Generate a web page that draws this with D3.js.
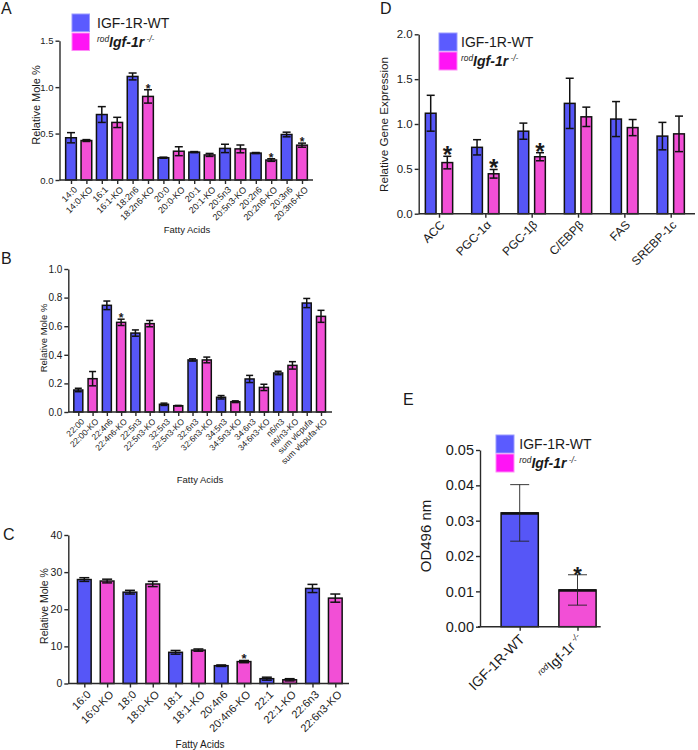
<!DOCTYPE html>
<html><head><meta charset="utf-8">
<script src="https://cdn.jsdelivr.net/npm/d3@7"></script>
<style>
body{margin:0;background:#fff}
svg{display:block}
text{font-family:"Liberation Sans",Arial,sans-serif;fill:#1a1a1a}
</style>
</head><body>
<svg id="c" width="698" height="750"></svg>
<script>
// ---------- DATA ----------
const seriesNames = ["IGF-1R-WT", "KO"];

const catsA = ["14:0","14:0-KO","16:1","16:1-KO","18:2n6","18:2n6-KO","20:0","20:0-KO","20:1","20:1-KO","20:5n3","20:5n3-KO","20:2n6","20:2n6-KO","20:3n6","20:3n6-KO"];
const valsA = [0.455,0.425,0.705,0.62,1.115,0.90,0.24,0.31,0.30,0.27,0.34,0.335,0.29,0.215,0.49,0.375];
const errA  = [0.055,0.01,0.085,0.055,0.037,0.072,0.006,0.048,0.006,0.016,0.045,0.042,0.006,0.014,0.025,0.022];
const sigA  = ["18:2n6-KO","20:2n6-KO","20:3n6-KO"];
const ticksA = [0,0.5,1.0,1.5];

const catsB = ["22:00","22:00-KO","22:4n6","22:4n6-KO","22:5n3","22:5n3-KO","32:5n3","32:5n3-KO","32:6n3","32:6n3-KO","34:5n3","34:5n3-KO","34:6n3","34:6n3-KO","n6/n3","n6/n3-KO","sum vlcpufa","sum vlcpufa-KO"];
const valsB = [0.154,0.233,0.746,0.627,0.552,0.618,0.054,0.044,0.364,0.364,0.103,0.072,0.231,0.172,0.273,0.326,0.762,0.669];
const errB  = [0.012,0.05,0.03,0.022,0.022,0.022,0.008,0.002,0.008,0.02,0.012,0.006,0.025,0.022,0.012,0.026,0.032,0.042];
const sigB  = ["22:4n6-KO"];
const ticksB = [0,0.2,0.4,0.6,0.8,1.0];

const catsC = ["16:0","16:0-KO","18:0","18:0-KO","18:1","18:1-KO","20:4n6","20:4n6-KO","22:1","22:1-KO","22:6n3","22:6n3-KO"];
const valsC = [28.0,27.6,24.6,26.8,8.4,9.0,4.8,5.9,1.3,1.0,25.6,23.0];
const errC  = [0.5,0.5,0.5,0.7,0.5,0.3,0.2,0.3,0.4,0.3,1.1,1.1];
const sigC  = ["20:4n6-KO"];
const ticksC = [0,10,20,30,40];

const genesD = ["ACC","PGC-1α","PGC-1β","C/EBPβ","FAS","SREBP-1c"];
const wtD    = [1.12,0.74,0.92,1.23,1.055,0.865];
const wtErrD = [0.2,0.085,0.09,0.28,0.195,0.153];
const koD    = [0.57,0.445,0.635,1.08,0.96,0.89];
const koErrD = [0.07,0.048,0.045,0.108,0.09,0.198];
const sigD   = ["ACC","PGC-1α","PGC-1β"];
const ticksD = [0,0.5,1.0,1.5,2.0];

const groupsE = ["IGF-1R-WT","KO"];
const valsE = [0.0322,0.0104];
const errE  = [0.008,0.0043];
const sigE  = ["KO"];
const ticksE = [0,0.01,0.02,0.03,0.04,0.05];

// ---------- DRAW ----------
const svg = d3.select("#c");
const WT = "#5656f7", KO = "#f24fd6";
const LWT = "#5b5bff", LKO = "#ff14f5";
const AX = "#2a2a2a";

function yAxis(x0, y, ticks, fmt, fs) {
  const g = svg.append("g").attr("transform", `translate(${x0},0)`)
    .call(d3.axisLeft(y).tickValues(ticks).tickFormat(fmt).tickSize(4).tickSizeOuter(0).tickPadding(2));
  g.selectAll("text").style("font-size", fs + "px").style("font-family", '"Liberation Sans",Arial,sans-serif').attr("fill", "#1a1a1a");
  g.selectAll("line,path").attr("stroke", AX).attr("stroke-width", 1.4);
  return g;
}
function xAxis(x, y0, xr, fs, dx, dy, labelFn) {
  const g = svg.append("g").attr("transform", `translate(0,${y0})`)
    .call(d3.axisBottom(x).tickSize(4).tickSizeOuter(0));
  g.select(".domain").remove();
  g.selectAll("line").attr("stroke", AX).attr("stroke-width", 1.4);
  g.selectAll("text").remove();
  g.selectAll(".tick").each(function(d) {
    const t = d3.select(this).append("text")
      .attr("transform", `translate(${dx},${dy}) rotate(-45)`)
      .attr("text-anchor", "end").attr("dy", "0.35em")
      .style("font-size", fs + "px");
    if (labelFn) labelFn(t, d); else t.text(d);
  });
  svg.append("line").attr("x1", xr[0]).attr("x2", xr[1]).attr("y1", y0).attr("y2", y0)
    .attr("stroke", AX).attr("stroke-width", 1.4);
}
function drawBars(data, y, y0, w, cap, ew, starFs, starOff) {
  const g = svg.append("g");
  g.selectAll("rect.bar").data(data).join("rect")
    .attr("x", d => d.x - w / 2).attr("width", w)
    .attr("y", d => y(d.v)).attr("height", d => y0 - y(d.v))
    .attr("fill", d => d.c).attr("stroke", "#111").attr("stroke-width", 1.5);
  const eb = g.selectAll("g.eb").data(data).join("g");
  eb.append("line").attr("x1", d => d.x).attr("x2", d => d.x)
    .attr("y1", d => y(d.v + d.e)).attr("y2", d => y(d.v - d.e));
  eb.append("line").attr("x1", d => d.x - cap / 2).attr("x2", d => d.x + cap / 2)
    .attr("y1", d => y(d.v + d.e)).attr("y2", d => y(d.v + d.e));
  eb.append("line").attr("x1", d => d.x - cap / 2).attr("x2", d => d.x + cap / 2)
    .attr("y1", d => y(d.v - d.e)).attr("y2", d => y(d.v - d.e));
  eb.selectAll("line").attr("stroke", "#111").attr("stroke-width", ew);
  g.selectAll("text.star").data(data.filter(d => d.s)).join("text")
    .attr("x", d => d.x).attr("y", d => y(d.v + d.e) + starOff)
    .attr("text-anchor", "middle").style("font-size", starFs + "px").style("font-weight", "bold").text("*");
}
function yTitle(x, yc, txt, fs) {
  svg.append("text").attr("transform", `translate(${x},${yc}) rotate(-90)`)
    .attr("text-anchor", "middle").attr("dominant-baseline", "central")
    .style("font-size", fs + "px").text(txt);
}
function xTitle(x, yc, txt, fs) {
  svg.append("text").attr("x", x).attr("y", yc).attr("text-anchor", "middle")
    .attr("dominant-baseline", "central").style("font-size", fs + "px").text(txt);
}
function letter(x, y, t) {
  svg.append("text").attr("x", x).attr("y", y).style("font-size", "16px").text(t);
}
function koLabel(t, fsMain, fsSup, bold, italic) {
  t.append("tspan").attr("baseline-shift", "super").style("font-size", fsSup + "px").style("font-style", "italic").text("rod");
  t.append("tspan").style("font-size", fsMain + "px").style("font-style", italic ? "italic" : "normal")
    .style("font-weight", bold ? "bold" : "normal").text("Igf-1r");
  t.append("tspan").attr("baseline-shift", "super").style("font-size", fsSup + "px").style("font-style", "italic").text(" -/-");
}
function legend(x, y, sq, gap, tx, fs) {
  svg.append("rect").attr("x", x).attr("y", y).attr("width", sq).attr("height", sq)
    .attr("fill", LWT).attr("stroke", "#9a9aff").attr("stroke-width", 1);
  svg.append("rect").attr("x", x).attr("y", y + sq + gap).attr("width", sq).attr("height", sq)
    .attr("fill", LKO).attr("stroke", "#ff8cf8").attr("stroke-width", 1);
  svg.append("text").attr("x", tx).attr("y", y + sq / 2).attr("dominant-baseline", "central")
    .style("font-size", fs + "px").text(seriesNames[0]);
  const t = svg.append("text").attr("x", tx).attr("y", y + sq + gap + sq / 2 + fs * 0.35);
  koLabel(t, fs, fs * 0.6, true, true);
}
const isKO = (c, i) => i % 2 === 1;

// ----- Panel A -----
{
  const y0 = 180, yT = 40.7;
  const x = d3.scalePoint().domain(catsA).range([71, 302]);
  const y = d3.scaleLinear().domain([0, 1.5]).range([y0, yT]);
  const data = catsA.map((c, i) => ({x: x(c), v: valsA[i], e: errA[i], c: isKO(c, i) ? KO : WT, s: sigA.includes(c)}));
  drawBars(data, y, y0, 10.7, 8, 1.5, 12, 3);
  yAxis(59.5, y, ticksA, d3.format(".1f"), 9.5);
  xAxis(x, y0, [59.5, 313], 9, 4, 8);
  yTitle(36, 105, "Relative Mole %", 11);
  xTitle(187, 229, "Fatty Acids", 9.5);
  legend(72, 14, 17.5, 1.5, 97, 14);
  letter(1, 14, "A");
}
// ----- Panel B -----
{
  const y0 = 412, yT = 269;
  const x = d3.scalePoint().domain(catsB).range([78.3, 321]);
  const y = d3.scaleLinear().domain([0, 1.0]).range([y0, yT]);
  const data = catsB.map((c, i) => ({x: x(c), v: valsB[i], e: errB[i], c: isKO(c, i) ? KO : WT, s: sigB.includes(c)}));
  drawBars(data, y, y0, 9, 7, 1.5, 12, 3);
  yAxis(68.3, y, ticksB, d3.format(".1f"), 10);
  xAxis(x, y0, [68.3, 332], 8.5, 4, 8);
  yTitle(43, 338, "Relative Mole %", 9.5);
  xTitle(200, 479, "Fatty Acids", 9.5);
  letter(1, 264, "B");
}
// ----- Panel C -----
{
  const y0 = 683.5, yT = 535;
  const x = d3.scalePoint().domain(catsC).range([84.3, 335.3]);
  const y = d3.scaleLinear().domain([0, 40]).range([y0, yT]);
  const data = catsC.map((c, i) => ({x: x(c), v: valsC[i], e: errC[i], c: isKO(c, i) ? KO : WT, s: sigC.includes(c)}));
  drawBars(data, y, y0, 13.7, 10, 1.5, 13, 3);
  yAxis(68.3, y, ticksC, d3.format("d"), 10.5);
  xAxis(x, y0, [68.3, 349], 11, 4, 9);
  yTitle(44, 606, "Relative Mole %", 10.5);
  xTitle(200, 744, "Fatty Acids", 10);
  letter(3, 540, "C");
}
// ----- Panel D -----
{
  const y0 = 213.7, yT = 34.3;
  const xg = d3.scalePoint().domain(genesD).range([439, 670.7]);
  const y = d3.scaleLinear().domain([0, 2.0]).range([y0, yT]);
  const off = 8.3;
  const data = [];
  genesD.forEach((g, i) => {
    data.push({x: xg(g) - off, v: wtD[i], e: wtErrD[i], c: WT, s: false});
    data.push({x: xg(g) + off, v: koD[i], e: koErrD[i], c: KO, s: sigD.includes(g)});
  });
  drawBars(data, y, y0, 10.7, 8, 1.5, 24, 7);
  yAxis(418.7, y, ticksD, d3.format(".1f"), 11.5);
  xAxis(xg, y0, [418.7, 695], 12, 3, 9);
  yTitle(383, 124.5, "Relative Gene Expression", 11.7);
  legend(439, 33, 18, 1, 461, 14);
  letter(380, 14, "D");
}
// ----- Panel E -----
{
  const y0 = 626.7, yT = 450;
  const x = d3.scalePoint().domain(groupsE).range([519.7, 577.5]);
  const y = d3.scaleLinear().domain([0, 0.05]).range([y0, yT]);
  const data = groupsE.map((c, i) => ({x: x(c), v: valsE[i], e: errE[i], c: i ? KO : WT, s: sigE.includes(c)}));
  const g = svg.append("g");
  g.selectAll("rect").data(data).join("rect")
    .attr("x", d => d.x - 18.6).attr("width", 37.2)
    .attr("y", d => y(d.v)).attr("height", d => y0 - y(d.v))
    .attr("fill", d => d.c).attr("stroke", "#111").attr("stroke-width", 1.5);
  g.selectAll("line.top").data(data).join("line")
    .attr("x1", d => d.x - 18.6).attr("x2", d => d.x + 18.6)
    .attr("y1", d => y(d.v) + 0.5).attr("y2", d => y(d.v) + 0.5).attr("stroke", "#111").attr("stroke-width", 2.5);
  const eb = g.selectAll("g.eb").data(data).join("g");
  eb.append("line").attr("x1", d => d.x).attr("x2", d => d.x).attr("y1", d => y(d.v + d.e)).attr("y2", d => y(d.v - d.e));
  eb.append("line").attr("x1", d => d.x - 9.5).attr("x2", d => d.x + 9.5).attr("y1", d => y(d.v + d.e)).attr("y2", d => y(d.v + d.e));
  eb.append("line").attr("x1", d => d.x - 9.5).attr("x2", d => d.x + 9.5).attr("y1", d => y(d.v - d.e)).attr("y2", d => y(d.v - d.e));
  eb.selectAll("line").attr("stroke", "#222").attr("stroke-width", 0.9);
  g.selectAll("text.star").data(data.filter(d => d.s)).join("text")
    .attr("x", d => d.x).attr("y", d => y(d.v + d.e) + 7)
    .attr("text-anchor", "middle").style("font-size", "22px").style("font-weight", "bold").text("*");
  yAxis(480, y, ticksE, d3.format(".2f"), 14.5);
  xAxis(x, y0, [478, 600.7], 14, 2, 10, (t, d) => {
    if (d === "KO") koLabel(t, 14, 8.5, false, false); else t.text(d);
  });
  yTitle(425.5, 536, "OD496 nm", 15);
  legend(496, 435, 18, 1, 519.3, 14);
  letter(403, 405, "E");
}
</script>
</body></html>
